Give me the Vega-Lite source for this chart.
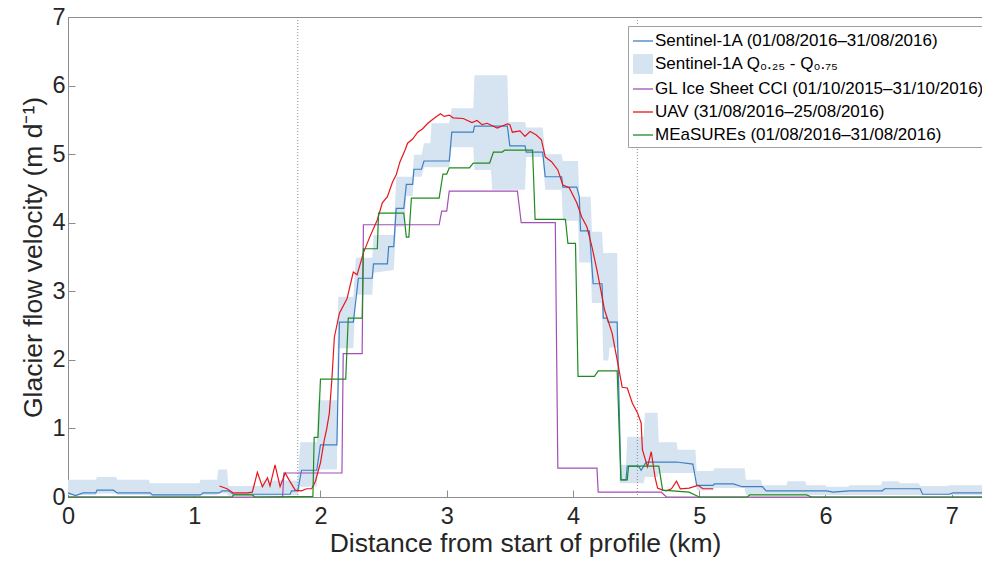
{
  "$schema": "https://vega.github.io/schema/vega-lite/v6.json",
  "width": 914,
  "height": 480,
  "autosize": {"type": "none"},
  "padding": {"left": 68, "top": 17, "right": 0, "bottom": 74},
  "background": "white",
  "config": {
    "font": "Liberation Sans",
    "view": {"stroke": "#8c8c8c", "strokeWidth": 1},
    "axis": {
      "grid": false,
      "domainColor": "#8c8c8c",
      "tickColor": "#8c8c8c",
      "labelColor": "#262626",
      "titleColor": "#262626",
      "labelFontSize": 23.5,
      "titleFontSize": 26.5,
      "titleFontWeight": "normal",
      "tickSize": -7,
      "labelFlush": false,
      "labelFont": "Liberation Sans",
      "titleFont": "Liberation Sans"
    }
  },
  "datasets": {
    "lines": [
      {"series": "Sentinel-1A (01/08/2016–31/08/2016)", "x": 0, "y": 0.06},
      {"series": "Sentinel-1A (01/08/2016–31/08/2016)", "x": 0.06, "y": 0.02},
      {"series": "Sentinel-1A (01/08/2016–31/08/2016)", "x": 0.12, "y": 0.06},
      {"series": "Sentinel-1A (01/08/2016–31/08/2016)", "x": 0.22, "y": 0.06},
      {"series": "Sentinel-1A (01/08/2016–31/08/2016)", "x": 0.23, "y": 0.10},
      {"series": "Sentinel-1A (01/08/2016–31/08/2016)", "x": 0.36, "y": 0.10},
      {"series": "Sentinel-1A (01/08/2016–31/08/2016)", "x": 0.39, "y": 0.06},
      {"series": "Sentinel-1A (01/08/2016–31/08/2016)", "x": 0.65, "y": 0.06},
      {"series": "Sentinel-1A (01/08/2016–31/08/2016)", "x": 0.67, "y": 0.03},
      {"series": "Sentinel-1A (01/08/2016–31/08/2016)", "x": 1.05, "y": 0.03},
      {"series": "Sentinel-1A (01/08/2016–31/08/2016)", "x": 1.07, "y": 0.06},
      {"series": "Sentinel-1A (01/08/2016–31/08/2016)", "x": 1.20, "y": 0.06},
      {"series": "Sentinel-1A (01/08/2016–31/08/2016)", "x": 1.22, "y": 0.09},
      {"series": "Sentinel-1A (01/08/2016–31/08/2016)", "x": 1.27, "y": 0.09},
      {"series": "Sentinel-1A (01/08/2016–31/08/2016)", "x": 1.31, "y": 0.04},
      {"series": "Sentinel-1A (01/08/2016–31/08/2016)", "x": 1.76, "y": 0.04},
      {"series": "Sentinel-1A (01/08/2016–31/08/2016)", "x": 1.77, "y": 0.09},
      {"series": "Sentinel-1A (01/08/2016–31/08/2016)", "x": 1.82, "y": 0.09},
      {"series": "Sentinel-1A (01/08/2016–31/08/2016)", "x": 1.85, "y": 0.39},
      {"series": "Sentinel-1A (01/08/2016–31/08/2016)", "x": 1.97, "y": 0.39},
      {"series": "Sentinel-1A (01/08/2016–31/08/2016)", "x": 2.00, "y": 0.76},
      {"series": "Sentinel-1A (01/08/2016–31/08/2016)", "x": 2.13, "y": 0.76},
      {"series": "Sentinel-1A (01/08/2016–31/08/2016)", "x": 2.15, "y": 2.55},
      {"series": "Sentinel-1A (01/08/2016–31/08/2016)", "x": 2.26, "y": 2.55},
      {"series": "Sentinel-1A (01/08/2016–31/08/2016)", "x": 2.30, "y": 3.19},
      {"series": "Sentinel-1A (01/08/2016–31/08/2016)", "x": 2.41, "y": 3.19},
      {"series": "Sentinel-1A (01/08/2016–31/08/2016)", "x": 2.42, "y": 3.40},
      {"series": "Sentinel-1A (01/08/2016–31/08/2016)", "x": 2.53, "y": 3.40},
      {"series": "Sentinel-1A (01/08/2016–31/08/2016)", "x": 2.54, "y": 3.65},
      {"series": "Sentinel-1A (01/08/2016–31/08/2016)", "x": 2.58, "y": 3.65},
      {"series": "Sentinel-1A (01/08/2016–31/08/2016)", "x": 2.60, "y": 4.21},
      {"series": "Sentinel-1A (01/08/2016–31/08/2016)", "x": 2.66, "y": 4.21},
      {"series": "Sentinel-1A (01/08/2016–31/08/2016)", "x": 2.68, "y": 4.56},
      {"series": "Sentinel-1A (01/08/2016–31/08/2016)", "x": 2.73, "y": 4.56},
      {"series": "Sentinel-1A (01/08/2016–31/08/2016)", "x": 2.74, "y": 4.78},
      {"series": "Sentinel-1A (01/08/2016–31/08/2016)", "x": 2.80, "y": 4.78},
      {"series": "Sentinel-1A (01/08/2016–31/08/2016)", "x": 2.82, "y": 4.90},
      {"series": "Sentinel-1A (01/08/2016–31/08/2016)", "x": 3.02, "y": 4.90},
      {"series": "Sentinel-1A (01/08/2016–31/08/2016)", "x": 3.04, "y": 5.32},
      {"series": "Sentinel-1A (01/08/2016–31/08/2016)", "x": 3.21, "y": 5.32},
      {"series": "Sentinel-1A (01/08/2016–31/08/2016)", "x": 3.22, "y": 5.41},
      {"series": "Sentinel-1A (01/08/2016–31/08/2016)", "x": 3.48, "y": 5.41},
      {"series": "Sentinel-1A (01/08/2016–31/08/2016)", "x": 3.50, "y": 5.12},
      {"series": "Sentinel-1A (01/08/2016–31/08/2016)", "x": 3.62, "y": 5.12},
      {"series": "Sentinel-1A (01/08/2016–31/08/2016)", "x": 3.63, "y": 5.03},
      {"series": "Sentinel-1A (01/08/2016–31/08/2016)", "x": 3.76, "y": 5.03},
      {"series": "Sentinel-1A (01/08/2016–31/08/2016)", "x": 3.78, "y": 4.67},
      {"series": "Sentinel-1A (01/08/2016–31/08/2016)", "x": 3.91, "y": 4.67},
      {"series": "Sentinel-1A (01/08/2016–31/08/2016)", "x": 3.92, "y": 4.52},
      {"series": "Sentinel-1A (01/08/2016–31/08/2016)", "x": 4.03, "y": 4.52},
      {"series": "Sentinel-1A (01/08/2016–31/08/2016)", "x": 4.05, "y": 4.38},
      {"series": "Sentinel-1A (01/08/2016–31/08/2016)", "x": 4.06, "y": 3.88},
      {"series": "Sentinel-1A (01/08/2016–31/08/2016)", "x": 4.13, "y": 3.88},
      {"series": "Sentinel-1A (01/08/2016–31/08/2016)", "x": 4.16, "y": 3.11},
      {"series": "Sentinel-1A (01/08/2016–31/08/2016)", "x": 4.23, "y": 3.11},
      {"series": "Sentinel-1A (01/08/2016–31/08/2016)", "x": 4.24, "y": 2.61},
      {"series": "Sentinel-1A (01/08/2016–31/08/2016)", "x": 4.27, "y": 2.61},
      {"series": "Sentinel-1A (01/08/2016–31/08/2016)", "x": 4.28, "y": 2.55},
      {"series": "Sentinel-1A (01/08/2016–31/08/2016)", "x": 4.35, "y": 2.55},
      {"series": "Sentinel-1A (01/08/2016–31/08/2016)", "x": 4.38, "y": 0.25},
      {"series": "Sentinel-1A (01/08/2016–31/08/2016)", "x": 4.42, "y": 0.25},
      {"series": "Sentinel-1A (01/08/2016–31/08/2016)", "x": 4.43, "y": 0.45},
      {"series": "Sentinel-1A (01/08/2016–31/08/2016)", "x": 4.52, "y": 0.45},
      {"series": "Sentinel-1A (01/08/2016–31/08/2016)", "x": 4.54, "y": 0.39},
      {"series": "Sentinel-1A (01/08/2016–31/08/2016)", "x": 4.56, "y": 0.45},
      {"series": "Sentinel-1A (01/08/2016–31/08/2016)", "x": 4.58, "y": 0.51},
      {"series": "Sentinel-1A (01/08/2016–31/08/2016)", "x": 4.82, "y": 0.51},
      {"series": "Sentinel-1A (01/08/2016–31/08/2016)", "x": 4.95, "y": 0.48},
      {"series": "Sentinel-1A (01/08/2016–31/08/2016)", "x": 4.98, "y": 0.17},
      {"series": "Sentinel-1A (01/08/2016–31/08/2016)", "x": 5.11, "y": 0.17},
      {"series": "Sentinel-1A (01/08/2016–31/08/2016)", "x": 5.12, "y": 0.19},
      {"series": "Sentinel-1A (01/08/2016–31/08/2016)", "x": 5.27, "y": 0.19},
      {"series": "Sentinel-1A (01/08/2016–31/08/2016)", "x": 5.34, "y": 0.15},
      {"series": "Sentinel-1A (01/08/2016–31/08/2016)", "x": 5.50, "y": 0.15},
      {"series": "Sentinel-1A (01/08/2016–31/08/2016)", "x": 5.53, "y": 0.09},
      {"series": "Sentinel-1A (01/08/2016–31/08/2016)", "x": 6.01, "y": 0.09},
      {"series": "Sentinel-1A (01/08/2016–31/08/2016)", "x": 6.06, "y": 0.07},
      {"series": "Sentinel-1A (01/08/2016–31/08/2016)", "x": 6.19, "y": 0.09},
      {"series": "Sentinel-1A (01/08/2016–31/08/2016)", "x": 6.45, "y": 0.09},
      {"series": "Sentinel-1A (01/08/2016–31/08/2016)", "x": 6.47, "y": 0.12},
      {"series": "Sentinel-1A (01/08/2016–31/08/2016)", "x": 6.75, "y": 0.12},
      {"series": "Sentinel-1A (01/08/2016–31/08/2016)", "x": 6.77, "y": 0.04},
      {"series": "Sentinel-1A (01/08/2016–31/08/2016)", "x": 6.98, "y": 0.04},
      {"series": "Sentinel-1A (01/08/2016–31/08/2016)", "x": 7.01, "y": 0.06},
      {"series": "Sentinel-1A (01/08/2016–31/08/2016)", "x": 7.24, "y": 0.06},

      {"series": "GL Ice Sheet CCI (01/10/2015–31/10/2016)", "x": 0, "y": 0},
      {"series": "GL Ice Sheet CCI (01/10/2015–31/10/2016)", "x": 1.70, "y": 0},
      {"series": "GL Ice Sheet CCI (01/10/2015–31/10/2016)", "x": 1.71, "y": 0.35},
      {"series": "GL Ice Sheet CCI (01/10/2015–31/10/2016)", "x": 2.17, "y": 0.35},
      {"series": "GL Ice Sheet CCI (01/10/2015–31/10/2016)", "x": 2.18, "y": 2.09},
      {"series": "GL Ice Sheet CCI (01/10/2015–31/10/2016)", "x": 2.33, "y": 2.09},
      {"series": "GL Ice Sheet CCI (01/10/2015–31/10/2016)", "x": 2.34, "y": 3.97},
      {"series": "GL Ice Sheet CCI (01/10/2015–31/10/2016)", "x": 2.94, "y": 3.97},
      {"series": "GL Ice Sheet CCI (01/10/2015–31/10/2016)", "x": 2.96, "y": 4.17},
      {"series": "GL Ice Sheet CCI (01/10/2015–31/10/2016)", "x": 3.00, "y": 4.17},
      {"series": "GL Ice Sheet CCI (01/10/2015–31/10/2016)", "x": 3.02, "y": 4.46},
      {"series": "GL Ice Sheet CCI (01/10/2015–31/10/2016)", "x": 3.56, "y": 4.46},
      {"series": "GL Ice Sheet CCI (01/10/2015–31/10/2016)", "x": 3.59, "y": 4.00},
      {"series": "GL Ice Sheet CCI (01/10/2015–31/10/2016)", "x": 3.86, "y": 4.00},
      {"series": "GL Ice Sheet CCI (01/10/2015–31/10/2016)", "x": 3.88, "y": 0.42},
      {"series": "GL Ice Sheet CCI (01/10/2015–31/10/2016)", "x": 4.19, "y": 0.42},
      {"series": "GL Ice Sheet CCI (01/10/2015–31/10/2016)", "x": 4.20, "y": 0.07},
      {"series": "GL Ice Sheet CCI (01/10/2015–31/10/2016)", "x": 4.70, "y": 0.07},
      {"series": "GL Ice Sheet CCI (01/10/2015–31/10/2016)", "x": 4.74, "y": 0},
      {"series": "GL Ice Sheet CCI (01/10/2015–31/10/2016)", "x": 7.24, "y": 0},

      {"series": "UAV (31/08/2016–25/08/2016)", "x": 1.20, "y": 0.16},
      {"series": "UAV (31/08/2016–25/08/2016)", "x": 1.26, "y": 0.12},
      {"series": "UAV (31/08/2016–25/08/2016)", "x": 1.31, "y": 0.06},
      {"series": "UAV (31/08/2016–25/08/2016)", "x": 1.42, "y": 0.06},
      {"series": "UAV (31/08/2016–25/08/2016)", "x": 1.46, "y": 0.07},
      {"series": "UAV (31/08/2016–25/08/2016)", "x": 1.50, "y": 0.36},
      {"series": "UAV (31/08/2016–25/08/2016)", "x": 1.54, "y": 0.15},
      {"series": "UAV (31/08/2016–25/08/2016)", "x": 1.58, "y": 0.28},
      {"series": "UAV (31/08/2016–25/08/2016)", "x": 1.60, "y": 0.16},
      {"series": "UAV (31/08/2016–25/08/2016)", "x": 1.64, "y": 0.47},
      {"series": "UAV (31/08/2016–25/08/2016)", "x": 1.68, "y": 0.15},
      {"series": "UAV (31/08/2016–25/08/2016)", "x": 1.72, "y": 0.35},
      {"series": "UAV (31/08/2016–25/08/2016)", "x": 1.76, "y": 0.22},
      {"series": "UAV (31/08/2016–25/08/2016)", "x": 1.80, "y": 0.10},
      {"series": "UAV (31/08/2016–25/08/2016)", "x": 1.85, "y": 0.09},
      {"series": "UAV (31/08/2016–25/08/2016)", "x": 1.89, "y": 0.12},
      {"series": "UAV (31/08/2016–25/08/2016)", "x": 1.93, "y": 0.12},
      {"series": "UAV (31/08/2016–25/08/2016)", "x": 1.96, "y": 0.23},
      {"series": "UAV (31/08/2016–25/08/2016)", "x": 2.00, "y": 0.50},
      {"series": "UAV (31/08/2016–25/08/2016)", "x": 2.03, "y": 0.83},
      {"series": "UAV (31/08/2016–25/08/2016)", "x": 2.05, "y": 1.00},
      {"series": "UAV (31/08/2016–25/08/2016)", "x": 2.07, "y": 1.22},
      {"series": "UAV (31/08/2016–25/08/2016)", "x": 2.09, "y": 1.71},
      {"series": "UAV (31/08/2016–25/08/2016)", "x": 2.11, "y": 2.33},
      {"series": "UAV (31/08/2016–25/08/2016)", "x": 2.15, "y": 2.68},
      {"series": "UAV (31/08/2016–25/08/2016)", "x": 2.21, "y": 2.89},
      {"series": "UAV (31/08/2016–25/08/2016)", "x": 2.26, "y": 3.28},
      {"series": "UAV (31/08/2016–25/08/2016)", "x": 2.29, "y": 3.24},
      {"series": "UAV (31/08/2016–25/08/2016)", "x": 2.34, "y": 3.56},
      {"series": "UAV (31/08/2016–25/08/2016)", "x": 2.39, "y": 3.79},
      {"series": "UAV (31/08/2016–25/08/2016)", "x": 2.45, "y": 4.04},
      {"series": "UAV (31/08/2016–25/08/2016)", "x": 2.49, "y": 4.29},
      {"series": "UAV (31/08/2016–25/08/2016)", "x": 2.53, "y": 4.38},
      {"series": "UAV (31/08/2016–25/08/2016)", "x": 2.57, "y": 4.59},
      {"series": "UAV (31/08/2016–25/08/2016)", "x": 2.60, "y": 4.70},
      {"series": "UAV (31/08/2016–25/08/2016)", "x": 2.63, "y": 4.89},
      {"series": "UAV (31/08/2016–25/08/2016)", "x": 2.67, "y": 5.06},
      {"series": "UAV (31/08/2016–25/08/2016)", "x": 2.69, "y": 5.16},
      {"series": "UAV (31/08/2016–25/08/2016)", "x": 2.73, "y": 5.22},
      {"series": "UAV (31/08/2016–25/08/2016)", "x": 2.77, "y": 5.32},
      {"series": "UAV (31/08/2016–25/08/2016)", "x": 2.81, "y": 5.37},
      {"series": "UAV (31/08/2016–25/08/2016)", "x": 2.85, "y": 5.45},
      {"series": "UAV (31/08/2016–25/08/2016)", "x": 2.89, "y": 5.51},
      {"series": "UAV (31/08/2016–25/08/2016)", "x": 2.95, "y": 5.59},
      {"series": "UAV (31/08/2016–25/08/2016)", "x": 2.98, "y": 5.55},
      {"series": "UAV (31/08/2016–25/08/2016)", "x": 3.02, "y": 5.57},
      {"series": "UAV (31/08/2016–25/08/2016)", "x": 3.05, "y": 5.53},
      {"series": "UAV (31/08/2016–25/08/2016)", "x": 3.13, "y": 5.52},
      {"series": "UAV (31/08/2016–25/08/2016)", "x": 3.20, "y": 5.46},
      {"series": "UAV (31/08/2016–25/08/2016)", "x": 3.24, "y": 5.49},
      {"series": "UAV (31/08/2016–25/08/2016)", "x": 3.28, "y": 5.43},
      {"series": "UAV (31/08/2016–25/08/2016)", "x": 3.32, "y": 5.45},
      {"series": "UAV (31/08/2016–25/08/2016)", "x": 3.40, "y": 5.38},
      {"series": "UAV (31/08/2016–25/08/2016)", "x": 3.44, "y": 5.41},
      {"series": "UAV (31/08/2016–25/08/2016)", "x": 3.48, "y": 5.44},
      {"series": "UAV (31/08/2016–25/08/2016)", "x": 3.50, "y": 5.43},
      {"series": "UAV (31/08/2016–25/08/2016)", "x": 3.52, "y": 5.32},
      {"series": "UAV (31/08/2016–25/08/2016)", "x": 3.58, "y": 5.34},
      {"series": "UAV (31/08/2016–25/08/2016)", "x": 3.62, "y": 5.26},
      {"series": "UAV (31/08/2016–25/08/2016)", "x": 3.66, "y": 5.33},
      {"series": "UAV (31/08/2016–25/08/2016)", "x": 3.71, "y": 5.28},
      {"series": "UAV (31/08/2016–25/08/2016)", "x": 3.75, "y": 5.21},
      {"series": "UAV (31/08/2016–25/08/2016)", "x": 3.78, "y": 4.96},
      {"series": "UAV (31/08/2016–25/08/2016)", "x": 3.83, "y": 4.89},
      {"series": "UAV (31/08/2016–25/08/2016)", "x": 3.88, "y": 4.77},
      {"series": "UAV (31/08/2016–25/08/2016)", "x": 3.92, "y": 4.55},
      {"series": "UAV (31/08/2016–25/08/2016)", "x": 3.97, "y": 4.51},
      {"series": "UAV (31/08/2016–25/08/2016)", "x": 4.03, "y": 4.29},
      {"series": "UAV (31/08/2016–25/08/2016)", "x": 4.07, "y": 4.08},
      {"series": "UAV (31/08/2016–25/08/2016)", "x": 4.11, "y": 3.94},
      {"series": "UAV (31/08/2016–25/08/2016)", "x": 4.15, "y": 3.65},
      {"series": "UAV (31/08/2016–25/08/2016)", "x": 4.19, "y": 3.31},
      {"series": "UAV (31/08/2016–25/08/2016)", "x": 4.21, "y": 3.12},
      {"series": "UAV (31/08/2016–25/08/2016)", "x": 4.25, "y": 2.73},
      {"series": "UAV (31/08/2016–25/08/2016)", "x": 4.31, "y": 2.39},
      {"series": "UAV (31/08/2016–25/08/2016)", "x": 4.35, "y": 2.00},
      {"series": "UAV (31/08/2016–25/08/2016)", "x": 4.39, "y": 1.60},
      {"series": "UAV (31/08/2016–25/08/2016)", "x": 4.43, "y": 1.59},
      {"series": "UAV (31/08/2016–25/08/2016)", "x": 4.47, "y": 1.37},
      {"series": "UAV (31/08/2016–25/08/2016)", "x": 4.51, "y": 1.23},
      {"series": "UAV (31/08/2016–25/08/2016)", "x": 4.54, "y": 1.08},
      {"series": "UAV (31/08/2016–25/08/2016)", "x": 4.55, "y": 0.69},
      {"series": "UAV (31/08/2016–25/08/2016)", "x": 4.59, "y": 0.44},
      {"series": "UAV (31/08/2016–25/08/2016)", "x": 4.62, "y": 0.66},
      {"series": "UAV (31/08/2016–25/08/2016)", "x": 4.65, "y": 0.29},
      {"series": "UAV (31/08/2016–25/08/2016)", "x": 4.67, "y": 0.13},
      {"series": "UAV (31/08/2016–25/08/2016)", "x": 4.71, "y": 0.10},
      {"series": "UAV (31/08/2016–25/08/2016)", "x": 4.74, "y": 0.09},
      {"series": "UAV (31/08/2016–25/08/2016)", "x": 4.78, "y": 0.12},
      {"series": "UAV (31/08/2016–25/08/2016)", "x": 4.82, "y": 0.23},
      {"series": "UAV (31/08/2016–25/08/2016)", "x": 4.85, "y": 0.12},
      {"series": "UAV (31/08/2016–25/08/2016)", "x": 4.92, "y": 0.13},
      {"series": "UAV (31/08/2016–25/08/2016)", "x": 4.99, "y": 0.17},
      {"series": "UAV (31/08/2016–25/08/2016)", "x": 5.03, "y": 0.12},
      {"series": "UAV (31/08/2016–25/08/2016)", "x": 5.11, "y": 0.12},

      {"series": "MEaSUREs (01/08/2016–31/08/2016)", "x": 0, "y": 0},
      {"series": "MEaSUREs (01/08/2016–31/08/2016)", "x": 1.30, "y": 0},
      {"series": "MEaSUREs (01/08/2016–31/08/2016)", "x": 1.31, "y": 0.03},
      {"series": "MEaSUREs (01/08/2016–31/08/2016)", "x": 1.46, "y": 0.03},
      {"series": "MEaSUREs (01/08/2016–31/08/2016)", "x": 1.48, "y": 0},
      {"series": "MEaSUREs (01/08/2016–31/08/2016)", "x": 1.94, "y": 0.01},
      {"series": "MEaSUREs (01/08/2016–31/08/2016)", "x": 1.95, "y": 0.87},
      {"series": "MEaSUREs (01/08/2016–31/08/2016)", "x": 1.98, "y": 0.87},
      {"series": "MEaSUREs (01/08/2016–31/08/2016)", "x": 2.00, "y": 1.72},
      {"series": "MEaSUREs (01/08/2016–31/08/2016)", "x": 2.20, "y": 1.72},
      {"series": "MEaSUREs (01/08/2016–31/08/2016)", "x": 2.22, "y": 2.61},
      {"series": "MEaSUREs (01/08/2016–31/08/2016)", "x": 2.33, "y": 2.61},
      {"series": "MEaSUREs (01/08/2016–31/08/2016)", "x": 2.34, "y": 3.62},
      {"series": "MEaSUREs (01/08/2016–31/08/2016)", "x": 2.45, "y": 3.62},
      {"series": "MEaSUREs (01/08/2016–31/08/2016)", "x": 2.46, "y": 4.14},
      {"series": "MEaSUREs (01/08/2016–31/08/2016)", "x": 2.66, "y": 4.14},
      {"series": "MEaSUREs (01/08/2016–31/08/2016)", "x": 2.68, "y": 3.79},
      {"series": "MEaSUREs (01/08/2016–31/08/2016)", "x": 2.70, "y": 3.79},
      {"series": "MEaSUREs (01/08/2016–31/08/2016)", "x": 2.72, "y": 4.36},
      {"series": "MEaSUREs (01/08/2016–31/08/2016)", "x": 2.94, "y": 4.36},
      {"series": "MEaSUREs (01/08/2016–31/08/2016)", "x": 2.97, "y": 4.71},
      {"series": "MEaSUREs (01/08/2016–31/08/2016)", "x": 3.00, "y": 4.71},
      {"series": "MEaSUREs (01/08/2016–31/08/2016)", "x": 3.02, "y": 4.80},
      {"series": "MEaSUREs (01/08/2016–31/08/2016)", "x": 3.18, "y": 4.80},
      {"series": "MEaSUREs (01/08/2016–31/08/2016)", "x": 3.21, "y": 4.87},
      {"series": "MEaSUREs (01/08/2016–31/08/2016)", "x": 3.34, "y": 4.87},
      {"series": "MEaSUREs (01/08/2016–31/08/2016)", "x": 3.37, "y": 5.03},
      {"series": "MEaSUREs (01/08/2016–31/08/2016)", "x": 3.44, "y": 5.03},
      {"series": "MEaSUREs (01/08/2016–31/08/2016)", "x": 3.46, "y": 5.06},
      {"series": "MEaSUREs (01/08/2016–31/08/2016)", "x": 3.68, "y": 5.06},
      {"series": "MEaSUREs (01/08/2016–31/08/2016)", "x": 3.70, "y": 4.05},
      {"series": "MEaSUREs (01/08/2016–31/08/2016)", "x": 3.94, "y": 4.05},
      {"series": "MEaSUREs (01/08/2016–31/08/2016)", "x": 3.96, "y": 3.70},
      {"series": "MEaSUREs (01/08/2016–31/08/2016)", "x": 4.02, "y": 3.70},
      {"series": "MEaSUREs (01/08/2016–31/08/2016)", "x": 4.04, "y": 1.76},
      {"series": "MEaSUREs (01/08/2016–31/08/2016)", "x": 4.17, "y": 1.76},
      {"series": "MEaSUREs (01/08/2016–31/08/2016)", "x": 4.20, "y": 1.84},
      {"series": "MEaSUREs (01/08/2016–31/08/2016)", "x": 4.35, "y": 1.84},
      {"series": "MEaSUREs (01/08/2016–31/08/2016)", "x": 4.38, "y": 0.25},
      {"series": "MEaSUREs (01/08/2016–31/08/2016)", "x": 4.43, "y": 0.25},
      {"series": "MEaSUREs (01/08/2016–31/08/2016)", "x": 4.44, "y": 0.45},
      {"series": "MEaSUREs (01/08/2016–31/08/2016)", "x": 4.68, "y": 0.45},
      {"series": "MEaSUREs (01/08/2016–31/08/2016)", "x": 4.71, "y": 0.10},
      {"series": "MEaSUREs (01/08/2016–31/08/2016)", "x": 4.92, "y": 0.07},
      {"series": "MEaSUREs (01/08/2016–31/08/2016)", "x": 5.00, "y": 0},
      {"series": "MEaSUREs (01/08/2016–31/08/2016)", "x": 5.38, "y": 0},
      {"series": "MEaSUREs (01/08/2016–31/08/2016)", "x": 5.40, "y": 0.03},
      {"series": "MEaSUREs (01/08/2016–31/08/2016)", "x": 5.85, "y": 0.03},
      {"series": "MEaSUREs (01/08/2016–31/08/2016)", "x": 5.89, "y": 0},
      {"series": "MEaSUREs (01/08/2016–31/08/2016)", "x": 7.24, "y": 0}
    ],
    "band": [
      {"x": 0, "lo": 0.03, "hi": 0.25}, {"x": 0.22, "lo": 0.03, "hi": 0.25},
      {"x": 0.23, "lo": 0.05, "hi": 0.29}, {"x": 0.38, "lo": 0.05, "hi": 0.29},
      {"x": 0.39, "lo": 0.03, "hi": 0.25}, {"x": 0.64, "lo": 0.03, "hi": 0.25},
      {"x": 0.65, "lo": 0.01, "hi": 0.20}, {"x": 1.04, "lo": 0.01, "hi": 0.20},
      {"x": 1.05, "lo": 0.03, "hi": 0.25}, {"x": 1.18, "lo": 0.03, "hi": 0.25},
      {"x": 1.19, "lo": 0.05, "hi": 0.40}, {"x": 1.26, "lo": 0.05, "hi": 0.40},
      {"x": 1.27, "lo": 0.02, "hi": 0.16}, {"x": 1.53, "lo": 0.02, "hi": 0.16},
      {"x": 1.54, "lo": 0.02, "hi": 0.24}, {"x": 1.82, "lo": 0.03, "hi": 0.24},
      {"x": 1.84, "lo": 0.15, "hi": 0.80}, {"x": 1.97, "lo": 0.15, "hi": 0.80},
      {"x": 1.98, "lo": 0.40, "hi": 1.41}, {"x": 2.13, "lo": 0.40, "hi": 1.41},
      {"x": 2.14, "lo": 2.17, "hi": 2.92}, {"x": 2.26, "lo": 2.17, "hi": 2.92},
      {"x": 2.28, "lo": 2.95, "hi": 3.49}, {"x": 2.41, "lo": 2.95, "hi": 3.49},
      {"x": 2.42, "lo": 3.27, "hi": 3.82}, {"x": 2.58, "lo": 3.31, "hi": 3.82},
      {"x": 2.60, "lo": 3.94, "hi": 4.67}, {"x": 2.66, "lo": 3.94, "hi": 4.67},
      {"x": 2.68, "lo": 4.39, "hi": 4.67}, {"x": 2.73, "lo": 4.39, "hi": 4.67},
      {"x": 2.74, "lo": 4.67, "hi": 4.99}, {"x": 2.80, "lo": 4.67, "hi": 4.99},
      {"x": 2.82, "lo": 4.81, "hi": 5.16}, {"x": 2.87, "lo": 4.81, "hi": 5.16},
      {"x": 2.88, "lo": 4.81, "hi": 5.45}, {"x": 3.02, "lo": 4.81, "hi": 5.45},
      {"x": 3.04, "lo": 5.10, "hi": 5.67}, {"x": 3.21, "lo": 5.10, "hi": 5.67},
      {"x": 3.22, "lo": 4.77, "hi": 6.15}, {"x": 3.35, "lo": 4.77, "hi": 6.15},
      {"x": 3.36, "lo": 4.48, "hi": 6.15}, {"x": 3.48, "lo": 4.48, "hi": 6.15},
      {"x": 3.49, "lo": 4.48, "hi": 5.47}, {"x": 3.62, "lo": 4.48, "hi": 5.47},
      {"x": 3.63, "lo": 4.96, "hi": 5.39}, {"x": 3.76, "lo": 4.96, "hi": 5.39},
      {"x": 3.78, "lo": 4.48, "hi": 5.00}, {"x": 3.91, "lo": 4.48, "hi": 5.00},
      {"x": 3.92, "lo": 4.03, "hi": 4.90}, {"x": 4.04, "lo": 4.03, "hi": 4.90},
      {"x": 4.05, "lo": 3.42, "hi": 4.38}, {"x": 4.14, "lo": 3.42, "hi": 4.38},
      {"x": 4.15, "lo": 2.83, "hi": 3.87}, {"x": 4.23, "lo": 2.83, "hi": 3.87},
      {"x": 4.24, "lo": 1.99, "hi": 3.56}, {"x": 4.28, "lo": 1.99, "hi": 3.56},
      {"x": 4.29, "lo": 2.18, "hi": 3.56}, {"x": 4.35, "lo": 2.18, "hi": 3.56},
      {"x": 4.37, "lo": 0.20, "hi": 0.47}, {"x": 4.42, "lo": 0.20, "hi": 0.47},
      {"x": 4.43, "lo": 0.20, "hi": 0.88}, {"x": 4.56, "lo": 0.20, "hi": 0.88},
      {"x": 4.57, "lo": 0.29, "hi": 1.23}, {"x": 4.67, "lo": 0.29, "hi": 1.23},
      {"x": 4.68, "lo": 0.35, "hi": 0.80}, {"x": 4.82, "lo": 0.35, "hi": 0.80},
      {"x": 4.83, "lo": 0.35, "hi": 0.69}, {"x": 4.97, "lo": 0.35, "hi": 0.69},
      {"x": 4.98, "lo": 0.10, "hi": 0.38}, {"x": 5.11, "lo": 0.10, "hi": 0.38},
      {"x": 5.12, "lo": 0.13, "hi": 0.42}, {"x": 5.36, "lo": 0.13, "hi": 0.42},
      {"x": 5.37, "lo": 0.03, "hi": 0.25}, {"x": 5.49, "lo": 0.03, "hi": 0.25},
      {"x": 5.50, "lo": 0.03, "hi": 0.17}, {"x": 5.69, "lo": 0.03, "hi": 0.17},
      {"x": 5.70, "lo": 0.03, "hi": 0.23}, {"x": 5.84, "lo": 0.03, "hi": 0.23},
      {"x": 5.85, "lo": 0.03, "hi": 0.17}, {"x": 6.00, "lo": 0.03, "hi": 0.17},
      {"x": 6.01, "lo": 0.03, "hi": 0.15}, {"x": 6.18, "lo": 0.03, "hi": 0.15},
      {"x": 6.19, "lo": 0.03, "hi": 0.17}, {"x": 6.44, "lo": 0.03, "hi": 0.17},
      {"x": 6.45, "lo": 0.03, "hi": 0.23}, {"x": 6.58, "lo": 0.03, "hi": 0.23},
      {"x": 6.59, "lo": 0.03, "hi": 0.20}, {"x": 6.74, "lo": 0.03, "hi": 0.20},
      {"x": 6.75, "lo": 0.03, "hi": 0.16}, {"x": 6.97, "lo": 0.03, "hi": 0.16},
      {"x": 6.98, "lo": 0.03, "hi": 0.17}, {"x": 7.24, "lo": 0.03, "hi": 0.17}
    ],
    "vlines": [{"x": 1.82}, {"x": 4.51}]
  },
  "layer": [
    {
      "data": {"name": "band"},
      "mark": {"type": "area", "opacity": 1, "interpolate": "linear"},
      "encoding": {
        "x": {"field": "x", "type": "quantitative"},
        "y": {"field": "lo", "type": "quantitative"},
        "y2": {"field": "hi"},
        "color": {"datum": "Sentinel-1A Q₀.₂₅ - Q₀.₇₅", "type": "nominal"}
      }
    },
    {
      "data": {"name": "vlines"},
      "mark": {"type": "rule", "color": "#8c8c8c", "strokeDash": [1, 2], "strokeWidth": 1},
      "encoding": {
        "x": {"field": "x", "type": "quantitative"}
      }
    },
    {
      "data": {"name": "lines"},
      "mark": {"type": "line", "strokeWidth": 1.2, "interpolate": "linear"},
      "encoding": {
        "x": {
          "field": "x", "type": "quantitative",
          "scale": {"domain": [0, 7.24], "nice": false, "zero": false},
          "axis": {"title": "Distance from start of profile (km)", "values": [0, 1, 2, 3, 4, 5, 6, 7], "format": "d", "labelPadding": 14, "titlePadding": 3}
        },
        "y": {
          "field": "y", "type": "quantitative",
          "scale": {"domain": [0, 7], "nice": false},
          "axis": {"title": "Glacier flow velocity (m d⁻¹)", "values": [0, 1, 2, 3, 4, 5, 6, 7], "format": "d", "labelPadding": 10, "titlePadding": 4}
        },
        "color": {
          "field": "series", "type": "nominal", "sort": null,
          "scale": {
            "domain": ["Sentinel-1A (01/08/2016–31/08/2016)", "Sentinel-1A Q₀.₂₅ - Q₀.₇₅", "GL Ice Sheet CCI (01/10/2015–31/10/2016)", "UAV (31/08/2016–25/08/2016)", "MEaSUREs (01/08/2016–31/08/2016)"],
            "range": ["#3d80c2", "#d6e4f1", "#a34fb6", "#e8161c", "#1f8a1f"]
          },
          "legend": {
            "title": null,
            "orient": "none",
            "legendX": 560,
            "legendY": 9,
            "symbolType": "stroke",
            "symbolSize": 400,
            "symbolStrokeWidth": 1.3,
            "labelFontSize": 17,
            "labelFont": "Liberation Sans",
            "labelColor": "#000000",
            "labelLimit": 400,
            "labelOffset": 1,
            "rowPadding": 4,
            "padding": 4,
            "strokeColor": "#a0a0a0",
            "fillColor": "#ffffff",
            "encode": {
              "symbols": {
                "update": {
                  "shape": {"signal": "datum.index === 1 ? 'square' : 'stroke'"},
                  "fill": {"signal": "datum.index === 1 ? '#d6e4f1' : 'transparent'"},
                  "strokeOpacity": {"signal": "datum.index === 1 ? 0 : 1"}
                }
              }
            }
          }
        }
      }
    }
  ]
}
